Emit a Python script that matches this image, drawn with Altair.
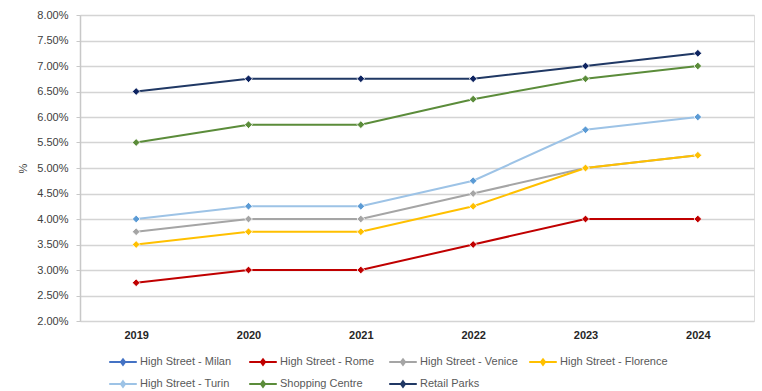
import altair as alt
import pandas as pd

years = ["2019", "2020", "2021", "2022", "2023", "2024"]
series_names = ["High Street - Milan", "High Street - Rome", "High Street - Venice",
                "High Street - Florence", "High Street - Turin", "Shopping Centre", "Retail Parks"]
line_colors = ["#4472C4", "#C00000", "#A5A5A5", "#FFC000", "#9DC3E6", "#5B8C3A", "#203864"]
marker_colors = ["#4472C4", "#C00000", "#A5A5A5", "#FFC000", "#5B9BD5", "#5B8C3A", "#0E2461"]

rome = [2.75, 3.00, 3.00, 3.50, 4.00, 4.00]
venice = [3.75, 4.00, 4.00, 4.50, 5.00, 5.25]
florence = [3.50, 3.75, 3.75, 4.25, 5.00, 5.25]
turin = [4.00, 4.25, 4.25, 4.75, 5.75, 6.00]
shopping = [5.50, 5.85, 5.85, 6.35, 6.75, 7.00]
retail = [6.50, 6.75, 6.75, 6.75, 7.00, 7.25]

series_data = {
    "High Street - Rome": rome,
    "High Street - Venice": venice,
    "High Street - Florence": florence,
    "High Street - Turin": turin,
    "Shopping Centre": shopping,
    "Retail Parks": retail,
}

rows = []
for name, vals in series_data.items():
    for y, v in zip(years, vals):
        rows.append({"year": y, "series": name, "value": v / 100})
df = pd.DataFrame(rows)

x_enc = alt.X("year:O", scale=alt.Scale(type="point", padding=0.5),
              axis=alt.Axis(title=None, labelAngle=0, labelFontWeight="bold", labelFontSize=11,
                            labelColor="#262626", domain=False, ticks=False, labelPadding=8,
                            grid=False))
y_enc = alt.Y("value:Q", scale=alt.Scale(domain=[0.02, 0.08], nice=False, zero=False),
              axis=alt.Axis(title="%", format=".2%", values=[0.02 + 0.005 * i for i in range(13)],
                            labelFontSize=11, labelColor="#404040", titleFontWeight="normal",
                            titleFontSize=11, titleColor="#404040", titlePadding=8,
                            grid=True, gridColor="#D4D4D4", gridWidth=1.5,
                            domain=True, domainColor="#C8C8C8", domainWidth=1.5,
                            tickColor="#C8C8C8", tickSize=4, labelPadding=8))

sym = "M-1,0H1M0,-0.2L0.15,0L0,0.2L-0.15,0Z"

lines = alt.Chart(df).mark_line(strokeWidth=2).encode(
    x=x_enc, y=y_enc,
    color=alt.Color("series:N", scale=alt.Scale(domain=series_names, range=line_colors),
                    legend=alt.Legend(title=None, orient="none", legendX=28, legendY=332,
                                      direction="horizontal", columns=4, gridAlign="all",
                                      symbolType=sym, symbolSize=760, symbolStrokeWidth=2,
                                      labelFontSize=11, labelColor="#595959", labelLimit=200,
                                      columnPadding=-5, rowPadding=-4, labelOffset=2)),
)

points = alt.Chart(df).mark_point(shape="diamond", filled=True, size=60, stroke="white",
                                  strokeWidth=0.8, opacity=1).encode(
    x=x_enc, y=y_enc,
    fill=alt.Fill("series:N", scale=alt.Scale(domain=series_names, range=marker_colors), legend=None),
)

chart = alt.layer(lines, points).resolve_scale(color="independent", fill="independent").properties(
    width=674, height=306,
    padding={"left": 80, "top": 15, "right": 8, "bottom": 70},
    autosize=alt.AutoSizeParams(type="none"),
).configure_view(stroke=None).configure(font="Liberation Sans")

chart.save("out.html", embed_options={"renderer": "svg", "actions": False})
